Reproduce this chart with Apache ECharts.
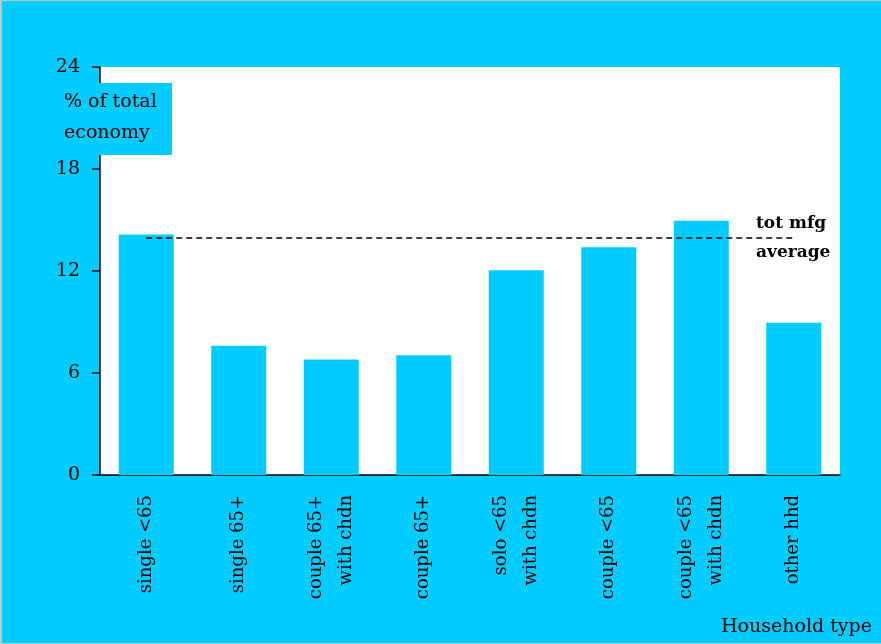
<!DOCTYPE html>
<html>
<head>
<meta charset="utf-8">
<script src="https://cdn.jsdelivr.net/npm/echarts@6/dist/echarts.min.js"></script>
<style>
  html, body { margin: 0; padding: 0; background: #00CCFF; }
  #chart { width: 881px; height: 644px; }
</style>
</head>
<body>
<div id="chart"></div>
<script>
// Household types along the x axis
const categories = [
  'single <65',
  'single 65+',
  'couple 65+\nwith chdn',
  'couple 65+',
  'solo <65\nwith chdn',
  'couple <65',
  'couple <65\nwith chdn',
  'other hhd'
];
// Share of each household type (% of total economy)
const shares = [14.15, 7.6, 6.8, 7.05, 12.05, 13.4, 14.95, 8.95];
// Total manufacturing average, drawn as a dashed reference line
const mfgAverage = 13.95;
// Value axis ticks
const yTicks = [0, 6, 12, 18, 24];

const CYAN = '#00CCFF';
const SERIF = '"DejaVu Serif", "Liberation Serif", serif';

const chart = echarts.init(document.getElementById('chart'), null, { renderer: 'canvas' });

const option = {
  backgroundColor: CYAN,
  animation: false,
  grid: {
    left: 100, top: 67, right: 41, bottom: 169,
    show: true, backgroundColor: '#ffffff', borderWidth: 0
  },
  xAxis: {
    type: 'category',
    data: categories,
    axisLine: { show: true, lineStyle: { color: '#000', width: 1.5 } },
    axisTick: { show: false },
    axisLabel: {
      rotate: 90,
      margin: 20,
      color: '#000',
      fontFamily: SERIF,
      fontSize: 18,
      lineHeight: 30
    }
  },
  yAxis: {
    type: 'value',
    min: yTicks[0],
    max: yTicks[yTicks.length - 1],
    interval: yTicks[1] - yTicks[0],
    splitLine: { show: false },
    axisLine: { show: true, lineStyle: { color: '#000', width: 1.5 } },
    axisTick: { show: true, length: 8, lineStyle: { color: '#000', width: 1.5 } },
    axisLabel: { color: '#000', fontFamily: SERIF, fontSize: 19, margin: 20 }
  },
  series: [{
    type: 'bar',
    data: shares,
    barWidth: 55,
    itemStyle: { color: CYAN },
    markLine: {
      symbol: 'none',
      silent: true,
      label: { show: false },
      lineStyle: { color: '#000', width: 1.5, type: [6, 4] },
      data: [[
        { coord: [categories[0], mfgAverage] },
        { coord: [categories[categories.length - 1], mfgAverage] }
      ]]
    }
  }]
};

chart.setOption(option);

// Annotations placed from the axis scales
const avgY = chart.convertToPixel({ yAxisIndex: 0 }, mfgAverage);
const topY = chart.convertToPixel({ yAxisIndex: 0 }, yTicks[yTicks.length - 1]);

chart.setOption({
  graphic: [
    // window frame
    { type: 'rect', left: 0, top: 0, shape: { width: 2, height: 644 }, style: { fill: '#c4c4c4' }, z: 100 },
    { type: 'rect', left: 0, top: 0, shape: { width: 881, height: 1 }, style: { fill: '#c4c4c4' }, z: 100 },
    { type: 'rect', left: 0, top: 643, shape: { width: 881, height: 1 }, style: { fill: '#c4c4c4' }, z: 100 },
    // value axis title box
    { type: 'rect', left: 58, top: topY + 16, shape: { width: 114, height: 72 }, style: { fill: CYAN }, z: 100 },
    {
      type: 'text', left: 64, top: topY + 20, z: 101,
      style: { text: '% of total\neconomy', fill: '#000', font: '19px ' + SERIF, lineHeight: 31 }
    },
    // reference line caption
    {
      type: 'text', left: 756, top: avgY - 23, z: 101,
      style: { text: 'tot mfg', fill: '#000', font: 'bold 17px ' + SERIF }
    },
    {
      type: 'text', left: 756, top: avgY + 6, z: 101,
      style: { text: 'average', fill: '#000', font: 'bold 17px ' + SERIF }
    },
    // category axis title
    {
      type: 'text', right: 9, top: 618, z: 101,
      style: { text: 'Household type', fill: '#000', font: '19px ' + SERIF }
    }
  ]
});
</script>
</body>
</html>
